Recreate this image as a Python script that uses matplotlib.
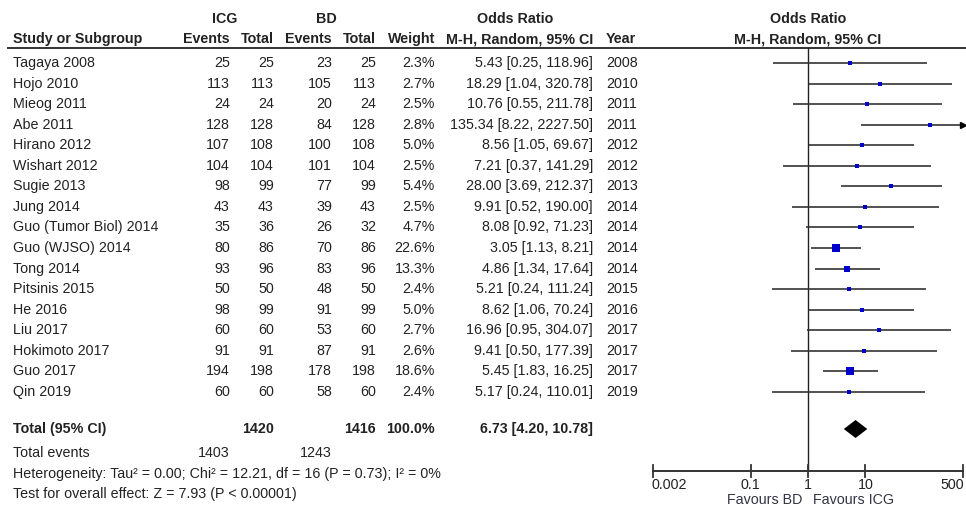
import matplotlib
matplotlib.use("Agg")
import matplotlib.pyplot as plt
import numpy as np

# study-level data
studies = ["Tagaya 2008", "Hojo 2010", "Mieog 2011", "Abe 2011", "Hirano 2012",
           "Wishart 2012", "Sugie 2013", "Jung 2014", "Guo (Tumor Biol) 2014",
           "Guo (WJSO) 2014", "Tong 2014", "Pitsinis 2015", "He 2016", "Liu 2017",
           "Hokimoto 2017", "Guo 2017", "Qin 2019"]
icg_events = [25, 113, 24, 128, 107, 104, 98, 43, 35, 80, 93, 50, 98, 60, 91, 194, 60]
icg_total = [25, 113, 24, 128, 108, 104, 99, 43, 36, 86, 96, 50, 99, 60, 91, 198, 60]
bd_events = [23, 105, 20, 84, 100, 101, 77, 39, 26, 70, 83, 48, 91, 53, 87, 178, 58]
bd_total = [25, 113, 24, 128, 108, 104, 99, 43, 32, 86, 96, 50, 99, 60, 91, 198, 60]
weights = [2.3, 2.7, 2.5, 2.8, 5.0, 2.5, 5.4, 2.5, 4.7, 22.6, 13.3, 2.4, 5.0, 2.7, 2.6, 18.6, 2.4]
odds = [5.43, 18.29, 10.76, 135.34, 8.56, 7.21, 28.00, 9.91, 8.08, 3.05, 4.86, 5.21,
        8.62, 16.96, 9.41, 5.45, 5.17]
ci_lo = [0.25, 1.04, 0.55, 8.22, 1.05, 0.37, 3.69, 0.52, 0.92, 1.13, 1.34, 0.24,
         1.06, 0.95, 0.50, 1.83, 0.24]
ci_hi = [118.96, 320.78, 211.78, 2227.50, 69.67, 141.29, 212.37, 190.00, 71.23, 8.21,
         17.64, 111.24, 70.24, 304.07, 177.39, 16.25, 110.01]
years = [2008, 2010, 2011, 2011, 2012, 2012, 2013, 2014, 2014, 2014, 2014, 2015,
         2016, 2017, 2017, 2017, 2019]

total_icg, total_bd = 1420, 1416
events_icg, events_bd = 1403, 1243
pooled_or, pooled_lo, pooled_hi = 6.73, 4.20, 10.78
xticks = [0.002, 0.1, 1, 10, 500]
xlim = (0.002, 500)

TXT = "#222222"
plt.rcParams["font.family"] = ["Liberation Sans Narrow", "Liberation Sans", "DejaVu Sans"]
plt.rcParams["font.size"] = 10.3

fig = plt.figure(figsize=(9.66, 5.08), dpi=100)
# text layer in pixel coordinates
tx = fig.add_axes([0, 0, 1, 1])
tx.set_xlim(0, 966)
tx.set_ylim(508, 0)
tx.axis("off")

# column anchors (pixels)
x_name, x_ev1, x_tot1, x_ev2, x_tot2, x_w, x_or, x_yr = 13, 230, 274, 332, 376, 435, 593, 606
y0, dy = 63, 20.56
rows = y0 + dy * np.arange(len(studies))
y_total, y_tev, y_het, y_test = 429, 453, 474, 494


def put(x, y, s, ha="left", bold=False):
    tx.text(x, y, s, ha=ha, va="center", color=TXT,
            fontweight="bold" if bold else "normal")


# header
put(225, 19, "ICG", ha="center", bold=True)
put(326, 19, "BD", ha="center", bold=True)
put(515, 19, "Odds Ratio", ha="center", bold=True)
put(808, 19, "Odds Ratio", ha="center", bold=True)
put(x_name, 39, "Study or Subgroup", bold=True)
put(x_ev1, 39, "Events", ha="right", bold=True)
put(x_tot1, 39, "Total", ha="right", bold=True)
put(x_ev2, 39, "Events", ha="right", bold=True)
put(x_tot2, 39, "Total", ha="right", bold=True)
put(x_w, 39, "Weight", ha="right", bold=True)
put(x_or, 39, "M-H, Random, 95% CI", ha="right", bold=True)
put(x_yr, 39, "Year", bold=True)
put(808, 39, "M-H, Random, 95% CI", ha="center", bold=True)
tx.plot([8, 966], [48, 48], color="#333333", lw=1.4)

for i, y in enumerate(rows):
    put(x_name, y, studies[i])
    put(x_ev1, y, str(icg_events[i]), ha="right")
    put(x_tot1, y, str(icg_total[i]), ha="right")
    put(x_ev2, y, str(bd_events[i]), ha="right")
    put(x_tot2, y, str(bd_total[i]), ha="right")
    put(x_w, y, f"{weights[i]:.1f}%", ha="right")
    put(x_or, y, f"{odds[i]:.2f} [{ci_lo[i]:.2f}, {ci_hi[i]:.2f}]", ha="right")
    put(x_yr, y, str(years[i]))

put(x_name, y_total, "Total (95% CI)", bold=True)
put(x_tot1, y_total, str(total_icg), ha="right", bold=True)
put(x_tot2, y_total, str(total_bd), ha="right", bold=True)
put(x_w, y_total, "100.0%", ha="right", bold=True)
put(x_or, y_total, f"{pooled_or:.2f} [{pooled_lo:.2f}, {pooled_hi:.2f}]", ha="right", bold=True)
put(x_name, y_tev, "Total events")
put(x_ev1, y_tev, str(events_icg), ha="right")
put(x_ev2, y_tev, str(events_bd), ha="right")
put(x_name, y_het, "Heterogeneity: Tau\u00b2 = 0.00; Chi\u00b2 = 12.21, df = 16 (P = 0.73); I\u00b2 = 0%")
put(x_name, y_test, "Test for overall effect: Z = 7.93 (P < 0.00001)")

# forest panel: log x, same pixel y as the text layer
fx = fig.add_axes([653 / 966, 0, 310 / 966, 1])
fx.set_xscale("log")
fx.set_xlim(*xlim)
fx.set_ylim(508, 0)
fx.axis("off")
fx.patch.set_alpha(0)

y_axis = 471
fx.plot([1, 1], [48, y_axis], color="#222222", lw=1.0)
for i, y in enumerate(rows):
    hi = min(ci_hi[i], xlim[1])
    fx.plot([ci_lo[i], hi], [y, y], color="#333333", lw=1.2, solid_capstyle="butt")
    if ci_hi[i] > xlim[1]:
        fx.plot([xlim[1]], [y], marker=">", color="black", ms=5, clip_on=False)
    # square area ~ weight, with a small floor so tiny weights stay visible
    fx.plot([odds[i]], [y], marker="s", color="#0000cc", mew=0, lw=0,
            ms=1.0 * np.sqrt(weights[i]) + 1.0)

# pooled diamond
fx.fill([pooled_lo, pooled_or, pooled_hi, pooled_or],
        [y_total, y_total - 9, y_total, y_total + 9], color="black", lw=0)

# x axis drawn RevMan-style
fx.plot(xlim, [y_axis, y_axis], color="#333333", lw=1.4, clip_on=False)
for t in xticks:
    fx.plot([t, t], [y_axis - 6, y_axis + 6], color="#333333", lw=1.3, clip_on=False)
    ha = "left" if t == xticks[0] else ("right" if t == xticks[-1] else "center")
    xo = t * 0.93 if t == xticks[0] else (t * 1.04 if t == xticks[-1] else t)
    fx.text(xo, 485, f"{t:g}", ha=ha, va="center", color=TXT, clip_on=False)
fx.text(0.8, 500, "Favours BD", ha="right", va="center", color="#333344")
fx.text(1.2, 500, "Favours ICG", ha="left", va="center", color="#333344")

fig.savefig("out.png", dpi=100)
plt.close(fig)
